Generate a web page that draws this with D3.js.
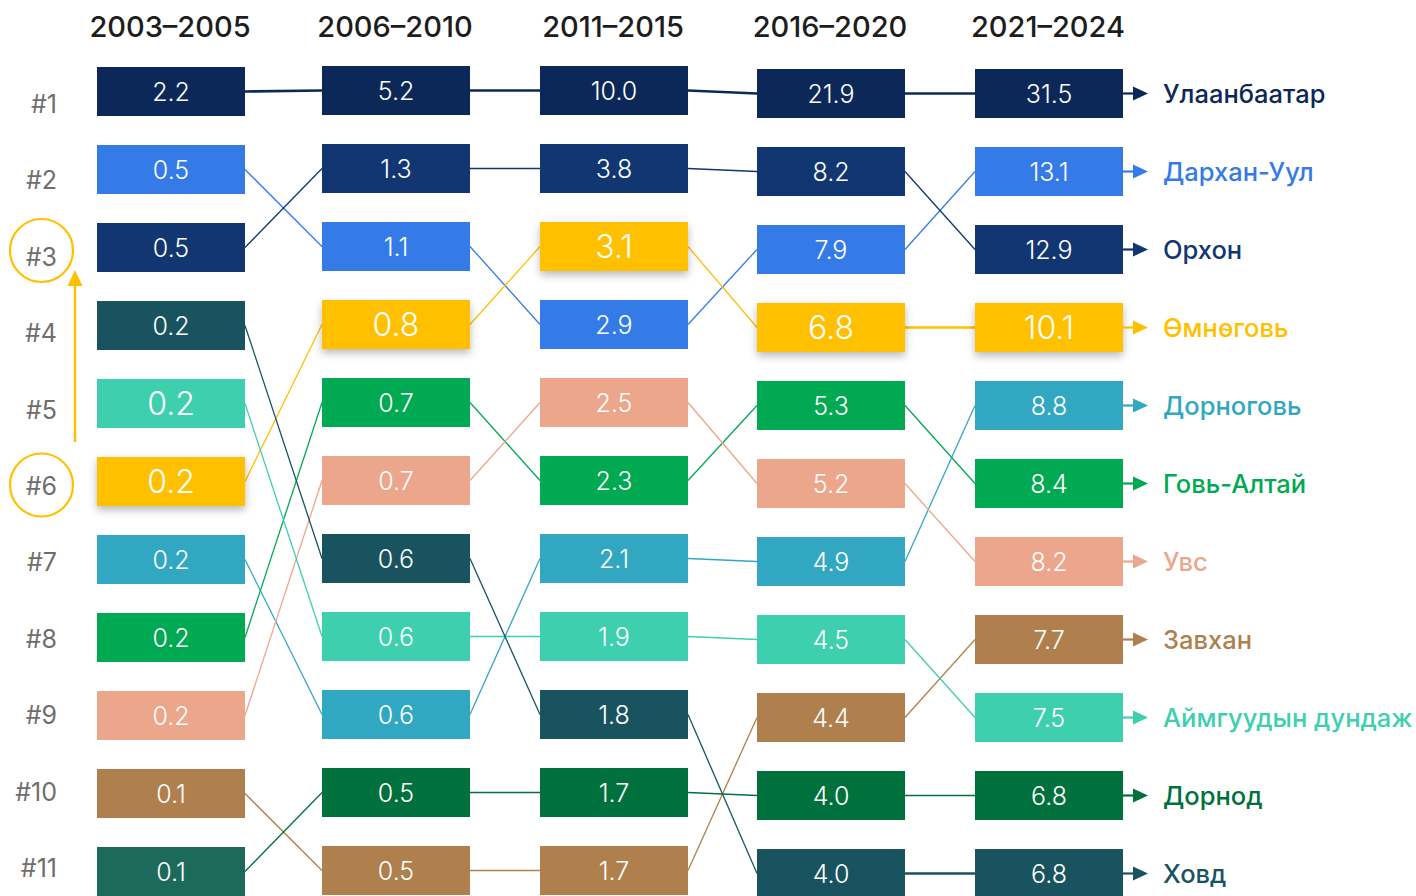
<!DOCTYPE html>
<html>
<head>
<meta charset="utf-8">
<script src="https://cdn.jsdelivr.net/npm/d3@7"></script>
<style>
  html, body { margin: 0; padding: 0; background: #ffffff; }
  svg { display: block; font-family: Inter, "Noto Sans", "Open Sans", sans-serif; }
</style>
</head>
<body>
<svg id="chart" width="1416" height="896"></svg>
<script>
// Periods shown as columns
const periods = ["2003–2005", "2006–2010", "2011–2015", "2016–2020", "2021–2024"];

// Regions (ordered as in the latest period) and their colours
const regions = ["Улаанбаатар", "Дархан-Уул", "Орхон", "Өмнөговь", "Дорноговь", "Говь-Алтай",
                 "Увс", "Завхан", "Аймгуудын дундаж", "Дорнод", "Ховд"];
const regionColors = ["#0C2858", "#357BE8", "#113672", "#FFC000", "#31A7C1", "#00A952",
                      "#EBA68B", "#AF804E", "#3ECFAE", "#00713C", "#1A5360"];

// Values per period, in the same order as `regions`
const values2003 = [2.2, 0.5, 0.5, 0.2, 0.2, 0.2, 0.2, 0.1, 0.2, 0.1, 0.2];
const values2006 = [5.2, 1.1, 1.3, 0.8, 0.6, 0.7, 0.7, 0.5, 0.6, 0.5, 0.6];
const values2011 = [10.0, 2.9, 3.8, 3.1, 2.1, 2.3, 2.5, 1.7, 1.9, 1.7, 1.8];
const values2016 = [21.9, 7.9, 8.2, 6.8, 4.9, 5.3, 5.2, 4.4, 4.5, 4.0, 4.0];
const values2021 = [31.5, 13.1, 12.9, 10.1, 8.8, 8.4, 8.2, 7.7, 7.5, 6.8, 6.8];

// Rank of each region within each period (ties resolved as published)
const ranks2003 = [1, 2, 3, 6, 7, 8, 9, 10, 5, 11, 4];
const ranks2006 = [1, 3, 2, 4, 9, 5, 6, 11, 8, 10, 7];
const ranks2011 = [1, 4, 2, 3, 7, 6, 5, 11, 8, 10, 9];
const ranks2016 = [1, 3, 2, 4, 7, 5, 6, 9, 8, 10, 11];
const ranks2021 = [1, 2, 3, 4, 5, 6, 7, 8, 9, 10, 11];

// Rank labels on the left
const rankLabels = ["#1", "#2", "#3", "#4", "#5", "#6", "#7", "#8", "#9", "#10", "#11"];

// Highlighted region and cells
const highlightRegion = "Өмнөговь";
const largeValueCells = [["2003–2005", "Аймгуудын дундаж"]];
const cellColorOverrides = [["2003–2005", "Дорнод", "#1C6A5A"]];

const allValues = [values2003, values2006, values2011, values2016, values2021];
const allRanks = [ranks2003, ranks2006, ranks2011, ranks2016, ranks2021];

// ---- layout ----
const boxW = 148, boxH = 49;
const colOffsetY = [0, -1, -1, 2, 2];

const svg = d3.select("#chart");

const x = d3.scaleOrdinal().domain(periods).range([97, 322, 540, 757, 975]);
const y = d3.scaleLinear().domain([1, 11]).range([67, 847]);
const rankY = d3.scaleLinear().domain([1, 11]).range([113, 877]);
const color = d3.scaleOrdinal().domain(regions).range(regionColors);
const fmt = d3.format(".1f");

// Build cell table
const cells = [];
periods.forEach((p, pi) => {
  regions.forEach((r, ri) => {
    const over = cellColorOverrides.find(o => o[0] === p && o[1] === r);
    cells.push({
      period: p, pi, region: r,
      value: allValues[pi][ri],
      rank: allRanks[pi][ri],
      fill: over ? over[2] : color(r),
      large: r === highlightRegion || largeValueCells.some(c => c[0] === p && c[1] === r),
      shadow: r === highlightRegion
    });
  });
});
const cellTop = c => y(c.rank) + colOffsetY[c.pi];
const cellMid = c => cellTop(c) + boxH / 2;

// Drop shadow for highlighted boxes
const defs = svg.append("defs");
const f = defs.append("filter").attr("id", "shadow")
  .attr("x", "-20%").attr("y", "-30%").attr("width", "140%").attr("height", "170%");
f.append("feDropShadow").attr("dx", 0).attr("dy", 4).attr("stdDeviation", 4)
  .attr("flood-color", "#000").attr("flood-opacity", 0.28);

// Period headers
svg.append("g").selectAll("text").data(periods).join("text")
  .attr("x", p => x(p) + boxW / 2 - 1)
  .attr("y", 37)
  .attr("text-anchor", "middle")
  .attr("font-size", 29)
  .attr("font-weight", 500)
  .attr("fill", "#1d1d1d")
  .text(p => p);

// Rank labels
svg.append("g").selectAll("text").data(rankLabels).join("text")
  .attr("x", 57)
  .attr("y", (d, i) => rankY(i + 1))
  .attr("text-anchor", "end")
  .attr("font-size", 25)
  .attr("fill", "#6e6e6e")
  .text(d => d);

// Connecting lines between consecutive periods
const links = [];
regions.forEach(r => {
  for (let pi = 0; pi < periods.length - 1; pi++) {
    const a = cells.find(c => c.region === r && c.pi === pi);
    const b = cells.find(c => c.region === r && c.pi === pi + 1);
    links.push({ a, b, region: r, last: pi === periods.length - 2 });
  }
});
svg.append("g").selectAll("line").data(links).join("line")
  .attr("x1", d => x(d.a.period) + boxW)
  .attr("y1", d => cellMid(d.a))
  .attr("x2", d => x(d.b.period))
  .attr("y2", d => cellMid(d.b))
  .attr("stroke", d => color(d.region))
  .attr("stroke-width", d => d.region === "Улаанбаатар" ? 2.6
        : (d.last && (d.region === "Ховд" || d.region === highlightRegion)) ? 2.6 : 1.3);

// Boxes
const boxG = svg.append("g").selectAll("g").data(cells).join("g");
boxG.append("rect")
  .attr("x", c => x(c.period))
  .attr("y", c => cellTop(c))
  .attr("width", boxW)
  .attr("height", boxH)
  .attr("fill", c => c.fill)
  .attr("filter", c => c.shadow ? "url(#shadow)" : null);
boxG.append("text")
  .attr("x", c => x(c.period) + boxW / 2)
  .attr("y", c => cellMid(c))
  .attr("dy", "0.36em")
  .attr("text-anchor", "middle")
  .attr("font-size", c => c.large ? 32 : 25)
  .attr("font-weight", 300)
  .attr("fill", "#ffffff")
  .text(c => fmt(c.value));

// Arrows and region names after the last period
const lastCells = cells.filter(c => c.pi === periods.length - 1);
const endG = svg.append("g").selectAll("g").data(lastCells).join("g");
endG.append("line")
  .attr("x1", c => x(c.period) + boxW)
  .attr("x2", c => x(c.period) + boxW + 13)
  .attr("y1", c => cellMid(c))
  .attr("y2", c => cellMid(c))
  .attr("stroke", c => c.fill)
  .attr("stroke-width", 2.2);
endG.append("path")
  .attr("d", c => {
    const x0 = x(c.period) + boxW + 10, m = cellMid(c);
    return `M${x0},${m - 7}L${x0 + 15},${m}L${x0},${m + 7}Z`;
  })
  .attr("fill", c => c.fill);
endG.append("text")
  .attr("x", c => x(c.period) + boxW + 40)
  .attr("y", c => cellMid(c))
  .attr("dy", "0.36em")
  .attr("font-size", 25.5)
  .attr("font-weight", 500)
  .attr("fill", c => c.fill)
  .text(c => c.region);

// Annotation: rise from #6 to #3
const ann = svg.append("g").attr("stroke", "#FFC000").attr("fill", "none");
ann.append("circle").attr("cx", 41.5).attr("cy", 250.5).attr("r", 31.5).attr("stroke-width", 2.2);
ann.append("circle").attr("cx", 41.5).attr("cy", 485).attr("r", 31.5).attr("stroke-width", 2.2);
ann.append("line").attr("x1", 75).attr("x2", 75).attr("y1", 442).attr("y2", 284).attr("stroke-width", 2.4);
svg.append("path").attr("d", "M75,270L82.5,286L67.5,286Z").attr("fill", "#FFC000");
</script>
</body>
</html>
